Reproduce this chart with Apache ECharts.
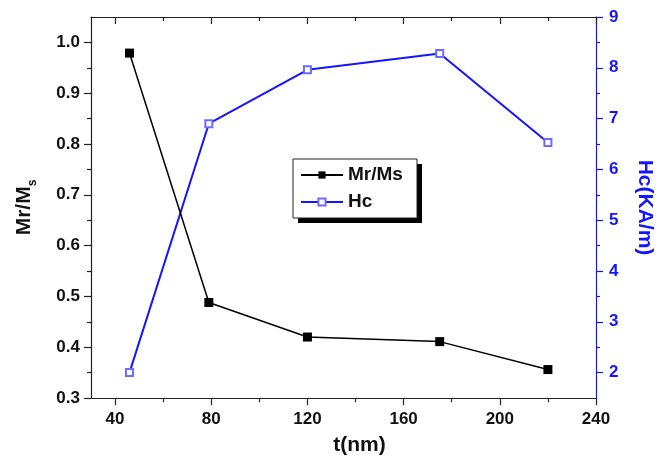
<!DOCTYPE html>
<html>
<head>
<meta charset="utf-8">
<script src="https://cdn.jsdelivr.net/npm/echarts@6/dist/echarts.min.js"></script>
<style>
  html, body { margin: 0; padding: 0; background: #fff; }
  #chart { width: 663px; height: 462px; }
</style>
</head>
<body>
<div id="chart"></div>
<script>
// data
const thickness = [46, 79, 120, 175, 220];
const mrMs = [0.979, 0.488, 0.42, 0.411, 0.356];
const hc = [2.0, 6.9, 7.96, 8.28, 6.53];

const xMajor = [40, 80, 120, 160, 200, 240];
const xMinor = [60, 100, 140, 180, 220];
const leftMajor = [0.3, 0.4, 0.5, 0.6, 0.7, 0.8, 0.9, 1.0];
const leftMinor = [0.35, 0.45, 0.55, 0.65, 0.75, 0.85, 0.95];
const rightMajor = [2, 3, 4, 5, 6, 7, 8, 9];
const rightMinor = [2.5, 3.5, 4.5, 5.5, 6.5, 7.5, 8.5];

const FONT = "Liberation Sans";
const BLUE = "#1414ff";

const chart = echarts.init(document.getElementById("chart"));

// helper: an extra axis that only draws ticks (minor ticks / mirrored top axis)
function tickAxis(base, values, len, inside, showLine, color) {
  return Object.assign({
    type: "value",
    axisLine: { show: showLine, lineStyle: { color: color, width: 1.2 } },
    axisTick: { show: true, inside: inside, length: len, customValues: values, lineStyle: { color: color, width: 1.2 } },
    axisLabel: { show: false },
    splitLine: { show: false }
  }, base);
}

const option = {
  animation: false,
  backgroundColor: "#fff",
  grid: { left: 91, right: 60, top: 17, bottom: 64 },
  // legend frame with its hard black shadow
  graphic: [
    { type: "rect", z: 1, shape: { x: 298, y: 164, width: 124, height: 59 }, style: { fill: "#000" } },
    { type: "rect", z: 1, shape: { x: 293, y: 159, width: 124, height: 59 }, style: { fill: "#fff", stroke: "#222", lineWidth: 1 } }
  ],
  legend: {
    orient: "vertical",
    left: 293,
    top: 159,
    padding: [6, 8, 6, 7],
    itemGap: 7,
    itemWidth: 42,
    itemHeight: 9,
    z: 5,
    textStyle: { fontFamily: FONT, fontWeight: "bold", fontSize: 19, color: "#111", lineHeight: 20 },
    data: ["Mr/Ms", "Hc"]
  },
  xAxis: [
    {
      type: "value",
      min: 30,
      max: 240,
      name: "t(nm)",
      nameLocation: "middle",
      nameGap: 37,
      nameTextStyle: { fontFamily: FONT, fontWeight: "bold", fontSize: 21, color: "#111", padding: [0, 0, 0, 32] },
      axisLine: { lineStyle: { color: "#222", width: 1.2 } },
      axisTick: { inside: false, length: 7, customValues: xMajor, lineStyle: { color: "#222", width: 1.2 } },
      axisLabel: { customValues: xMajor, margin: 13, fontFamily: FONT, fontWeight: "bold", fontSize: 17, color: "#111" },
      splitLine: { show: false }
    },
    tickAxis({ min: 30, max: 240, position: "bottom" }, xMinor, 4, false, false, "#222"),
    tickAxis({ min: 30, max: 240, position: "top" }, xMajor, 7, true, true, "#222"),
    tickAxis({ min: 30, max: 240, position: "top" }, xMinor, 4, true, false, "#222")
  ],
  yAxis: [
    {
      type: "value",
      position: "left",
      min: 0.3,
      max: 1.05,
      name: "{a|Mr/M}{b|s}",
      nameLocation: "middle",
      nameGap: 52,
      nameTextStyle: {
        rich: {
          a: { fontFamily: FONT, fontWeight: "bold", fontSize: 21, color: "#111", lineHeight: 30 },
          b: { fontFamily: FONT, fontWeight: "bold", fontSize: 12, color: "#111", verticalAlign: "bottom", lineHeight: 12 }
        }
      },
      axisLine: { lineStyle: { color: "#222", width: 1.2 } },
      axisTick: { inside: false, length: 7, customValues: leftMajor, lineStyle: { color: "#222", width: 1.2 } },
      axisLabel: {
        customValues: leftMajor, margin: 11, fontFamily: FONT, fontWeight: "bold", fontSize: 17, color: "#111",
        formatter: (v) => v.toFixed(1)
      },
      splitLine: { show: false }
    },
    tickAxis({ min: 0.3, max: 1.05, position: "left" }, leftMinor, 4, false, false, "#222"),
    {
      type: "value",
      position: "right",
      min: 1.5,
      max: 9,
      name: "Hc(KA/m)",
      nameLocation: "middle",
      nameRotate: -90,
      nameGap: 38,
      nameTextStyle: { fontFamily: FONT, fontWeight: "bold", fontSize: 21, color: BLUE },
      axisLine: { lineStyle: { color: BLUE, width: 1.2 } },
      axisTick: { inside: false, length: 7, customValues: rightMajor, lineStyle: { color: BLUE, width: 1.2 } },
      axisLabel: { customValues: rightMajor, margin: 13, fontFamily: FONT, fontWeight: "bold", fontSize: 17, color: BLUE },
      splitLine: { show: false }
    },
    tickAxis({ min: 1.5, max: 9, position: "right" }, rightMinor, 4, false, false, BLUE)
  ],
  series: [
    {
      name: "Mr/Ms",
      type: "line",
      xAxisIndex: 0,
      yAxisIndex: 0,
      data: thickness.map((t, i) => [t, mrMs[i]]),
      symbol: "rect",
      symbolSize: 9,
      lineStyle: { color: "#000", width: 1.5 },
      itemStyle: { color: "#000" },
      z: 3
    },
    {
      name: "Hc",
      type: "line",
      xAxisIndex: 0,
      yAxisIndex: 2,
      data: thickness.map((t, i) => [t, hc[i]]),
      symbol: "emptyRect",
      symbolSize: 7,
      showAllSymbol: true,
      lineStyle: { color: BLUE, width: 2 },
      itemStyle: { color: "#6b6bff", borderWidth: 1.2 },
      z: 2
    }
  ]
};

chart.setOption(option);
</script>
</body>
</html>
